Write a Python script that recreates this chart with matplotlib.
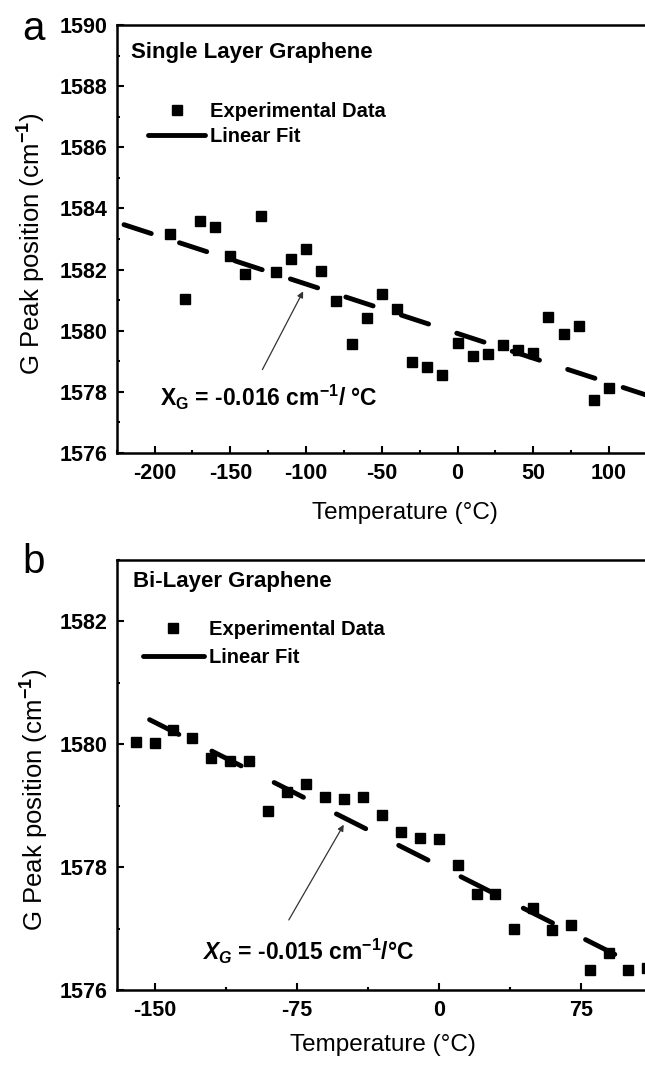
import matplotlib
matplotlib.use("Agg")
import matplotlib.pyplot as plt
from matplotlib.lines import Line2D
from matplotlib.ticker import MultipleLocator

plt.rcParams["font.family"] = ["Liberation Sans", "DejaVu Sans"]
plt.rcParams["font.weight"] = "bold"
plt.rcParams["axes.unicode_minus"] = False
plt.rcParams["mathtext.fontset"] = "custom"
plt.rcParams["mathtext.rm"] = "Liberation Sans"
plt.rcParams["mathtext.bf"] = "Liberation Sans:bold"
plt.rcParams["mathtext.it"] = "Liberation Sans:italic:bold"

# (a) single layer graphene
temp_a = [-190, -180, -170, -160, -150, -140, -130, -120, -110, -100,
          -90, -80, -70, -60, -50, -40, -30, -20, -10, 0,
          10, 20, 30, 40, 50, 60, 70, 80, 90, 100]
peak_a = [1583.18, 1581.04, 1583.60, 1583.38, 1582.46, 1581.87, 1583.76, 1581.91, 1582.35, 1582.67,
          1581.97, 1580.96, 1579.57, 1580.42, 1581.21, 1580.72, 1578.98, 1578.80, 1578.56, 1579.60,
          1579.16, 1579.24, 1579.55, 1579.38, 1579.27, 1580.44, 1579.90, 1580.15, 1577.75, 1578.13]
fit_temp_a = [-225, 125]
fit_peak_a = [1583.55, 1577.89]

# (b) bi-layer graphene
temp_b = [-160, -150, -140, -130, -120, -110, -100, -90, -80, -70,
          -60, -50, -40, -30, -20, -10, 0, 10, 20, 30,
          40, 50, 60, 70, 80, 90, 100, 110]
peak_b = [1580.04, 1580.02, 1580.23, 1580.10, 1579.78, 1579.72, 1579.72, 1578.92, 1579.22, 1579.35,
          1579.14, 1579.11, 1579.14, 1578.85, 1578.57, 1578.47, 1578.45, 1578.04, 1577.56, 1577.56,
          1576.99, 1577.33, 1576.98, 1577.06, 1576.33, 1576.60, 1576.33, 1576.35]
fit_temp_b = [-152.6, 93]
fit_peak_b = [1580.40, 1576.58]

fig = plt.figure(figsize=(6.45, 10.67), dpi=100)
fig.patch.set_facecolor("white")

ax_a = fig.add_axes([0.1808, 0.5754, 0.8223, 0.4011])
ax_b = fig.add_axes([0.1808, 0.0722, 0.8223, 0.4030])


def style_axes(ax):
    for sp in ax.spines.values():
        sp.set_linewidth(1.8)
    ax.tick_params(which="both", direction="in", top=False, right=False,
                   width=1.5, labelsize=15.5)
    ax.tick_params(which="major", length=5)
    ax.tick_params(which="minor", length=2.5)
    ax.tick_params(axis="y", pad=6.5)
    ax.tick_params(axis="x", pad=7)


lw_fit = 3.5

# panel a
ax_a.plot(temp_a, peak_a, "s", color="black", ms=6.8, ls="none")
ax_a.plot(fit_temp_a, fit_peak_a, color="black", lw=lw_fit,
          linestyle=(10.4, (5.9, 6.1)), dash_capstyle="round")
ax_a.set_xlim(-225, 125)
ax_a.set_ylim(1576, 1590)
ax_a.xaxis.set_major_locator(MultipleLocator(50))
ax_a.xaxis.set_minor_locator(MultipleLocator(25))
ax_a.yaxis.set_major_locator(MultipleLocator(2))
ax_a.yaxis.set_minor_locator(MultipleLocator(1))
style_axes(ax_a)
ax_a.set_xlabel("Temperature (°C)", fontsize=17.5, fontweight="normal", va="center")
ax_a.xaxis.set_label_coords(0.5437, -0.140)
ax_a.set_ylabel("G Peak position (cm$^{-1}$)", fontsize=18.5, fontweight="normal", va="center")
ax_a.yaxis.set_label_coords(-0.159, 0.49)
ax_a.text(0.0266, 0.937, "Single Layer Graphene", transform=ax_a.transAxes,
          fontsize=16, ha="left", va="center")
handles = [Line2D([], [], marker="s", color="black", ms=6.8, ls="none"),
           Line2D([], [], color="black", lw=lw_fit, solid_capstyle="round")]
ax_a.legend(handles, ["Experimental Data", "Linear Fit"], loc="upper left",
            bbox_to_anchor=(0.060, 0.8213), frameon=False, fontsize=14.5,
            borderpad=0, borderaxespad=0, handlelength=2.8, handletextpad=0.26,
            labelspacing=0.32, numpoints=1)
ax_a.annotate("", xy=(-101.9, 1581.29), xytext=(-128.8, 1578.73),
              arrowprops=dict(arrowstyle="-|>", color="#333333", lw=0.9,
                              mutation_scale=9, shrinkA=0, shrinkB=0))
ax_a.text(-196.6, 1577.55, r"$\mathbf{X_G}$ = -0.016 cm$^{\mathbf{-1}}$/ °C",
          fontsize=16.5, ha="left", va="baseline")

# panel b
ax_b.plot(temp_b, peak_b, "s", color="black", ms=6.8, ls="none")
ax_b.plot(fit_temp_b, fit_peak_b, color="black", lw=lw_fit,
          linestyle=(0, (6.75, 7.6)), dash_capstyle="round")
ax_b.set_xlim(-170, 110)
ax_b.set_ylim(1576, 1583)
ax_b.xaxis.set_major_locator(MultipleLocator(75))
ax_b.xaxis.set_minor_locator(MultipleLocator(37.5))
ax_b.yaxis.set_major_locator(MultipleLocator(2))
ax_b.yaxis.set_minor_locator(MultipleLocator(1))
style_axes(ax_b)
ax_b.set_xlabel("Temperature (°C)", fontsize=17.5, fontweight="normal", va="center")
ax_b.xaxis.set_label_coords(0.5013, -0.128)
ax_b.set_ylabel("G Peak position (cm$^{-1}$)", fontsize=18.5, fontweight="normal", va="center")
ax_b.yaxis.set_label_coords(-0.155, 0.442)
ax_b.text(0.030, 0.9495, "Bi-Layer Graphene", transform=ax_b.transAxes,
          fontsize=16, ha="left", va="center")
handles = [Line2D([], [], marker="s", color="black", ms=6.8, ls="none"),
           Line2D([], [], color="black", lw=lw_fit, solid_capstyle="round")]
ax_b.legend(handles, ["Experimental Data", "Linear Fit"], loc="upper left",
            bbox_to_anchor=(0.050, 0.8593), frameon=False, fontsize=14.5,
            borderpad=0, borderaxespad=0, handlelength=3.0, handletextpad=0.26,
            labelspacing=0.42, numpoints=1)
ax_b.annotate("", xy=(-50.1, 1578.69), xytext=(-79.1, 1577.14),
              arrowprops=dict(arrowstyle="-|>", color="#333333", lw=0.9,
                              mutation_scale=9, shrinkA=0, shrinkB=0))
ax_b.text(-124.8, 1576.49, r"$\mathit{X_G}$ = -0.015 cm$^{\mathbf{-1}}$/°C",
          fontsize=16.5, ha="left", va="baseline")

# panel letters
fig.text(0.035, 0.9625, "a", fontsize=29, fontweight="normal", ha="left", va="baseline")
fig.text(0.035, 0.463, "b", fontsize=29, fontweight="normal", ha="left", va="baseline")

fig.savefig("out.png", dpi=100, facecolor="white")
